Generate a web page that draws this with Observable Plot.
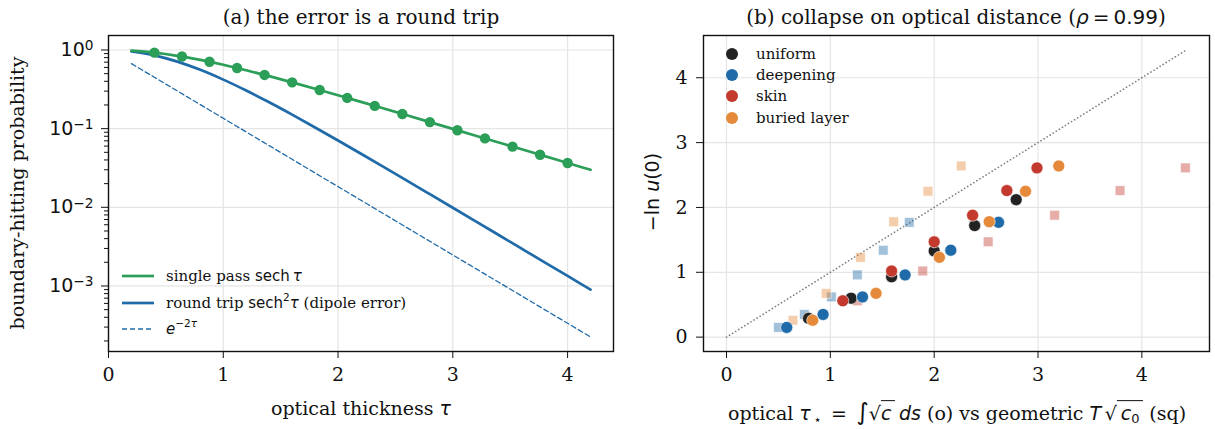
<!DOCTYPE html>
<html><head><meta charset="utf-8">
<script src="https://cdn.jsdelivr.net/npm/d3@7"></script>
<script src="https://cdn.jsdelivr.net/npm/@observablehq/plot@0.6"></script>
<style>
body{margin:0;background:#fff;}
#wrap{position:relative;width:1215px;height:429px;overflow:hidden;font-family:"DejaVu Serif",serif;color:#111;background:#fff;}
.abs{position:absolute;white-space:nowrap;line-height:1;}
.m{font-family:"DejaVu Sans",sans-serif;font-style:normal;}
.mi{font-family:"DejaVu Sans",sans-serif;font-style:italic;}
.ov{border-top:1.3px solid #111;padding-top:1px;}
.c{transform:translate(-50%,-50%);}
.leg{position:absolute;font-size:15px;white-space:nowrap;}
.leg div{display:flex;align-items:center;height:26.5px;}
.leg2 div{display:flex;align-items:center;height:21.3px;}
</style></head><body><div id="wrap"></div>
<script>
// ---------- panel (a) data ----------
const tau = [0.2,0.4,0.6,0.8,1.0,1.2,1.4,1.6,1.8,2.0,2.2,2.4,2.6,2.8,3.0,3.2,3.4,3.6,3.8,4.0,4.2];
const singlePass = [0.98033,0.92500,0.84356,0.74770,0.64805,0.55228,0.46492,0.38798,0.32180,0.26580,0.21892,0.17996,0.14773,0.12117,0.09933,0.08139,0.06668,0.05461,0.04472,0.03662,0.02998];
const roundTrip = [0.96105,0.85563,0.71160,0.55905,0.41997,0.30501,0.21615,0.15053,0.10356,0.07065,0.04793,0.03239,0.02183,0.01468,0.009866,0.006624,0.004446,0.002982,0.002000,0.001341,0.000899];
const expTwo = [0.67032,0.44933,0.30119,0.20190,0.13534,0.09072,0.06081,0.04076,0.02732,0.01832,0.01228,0.00823,0.005517,0.003698,0.002479,0.001662,0.001114,0.000747,0.0005005,0.0003355,0.0002249];
const markerTau = [0.40,0.64,0.88,1.12,1.36,1.60,1.84,2.08,2.32,2.56,2.80,3.04,3.28,3.52,3.76,4.00];
const markerSingle = [0.9250,0.8252,0.7078,0.5898,0.4816,0.3880,0.3098,0.2460,0.1947,0.1537,0.1212,0.09545,0.07515,0.05915,0.04654,0.03662];
const xTicksA = [0,1,2,3,4];
const yTicksA = [1e-3,1e-2,1e-1,1];
const yTickExpA = ["−3","−2","−1","0"];

// ---------- panel (b) data ----------
const families = ["uniform","deepening","skin","buried layer"];
const famColors = ["#222222","#1f6aa8","#c3392d","#e58a3a"];
const lnU0 = [
  [0.29,0.60,0.93,1.33,1.72,2.12],
  [0.15,0.35,0.62,0.96,1.34,1.77],
  [0.56,1.02,1.47,1.88,2.26,2.61],
  [0.26,0.675,1.23,1.78,2.25,2.64]
];
const opticalTau = [
  [0.79,1.20,1.59,2.00,2.39,2.79],
  [0.58,0.93,1.31,1.72,2.16,2.62],
  [1.12,1.59,2.00,2.37,2.70,2.99],
  [0.83,1.44,2.05,2.53,2.88,3.20]
];
const geometricT = [
  [0.79,1.20,1.59,2.00,2.39,2.79],
  [0.50,0.75,1.01,1.26,1.51,1.76],
  [1.26,1.89,2.52,3.16,3.79,4.42],
  [0.64,0.96,1.29,1.61,1.94,2.26]
];
const ticksB = [0,1,2,3,4];

// ---------- build tables ----------
const curveA = tau.map((t,i)=>({t, s:singlePass[i], r:roundTrip[i], e:expTwo[i]}));
const markersA = markerTau.map((t,i)=>({t, s:markerSingle[i]}));
const circles = [], squares = [];
families.forEach((f,k)=>{
  lnU0[k].forEach((y,i)=>{
    circles.push({fam:f, x:opticalTau[k][i], y});
    squares.push({fam:f, x:geometricT[k][i], y});
  });
});
const maxX = d3.max(squares.concat(circles), d=>d.x);
const diag = [{v:0},{v:maxX}];

const green = "#2b9e58", blue = "#1f6aa8";
const gridColor = "#e5e5e5";
const TICK_FS = 19;

const yDomA = [1.469e-4, 1.528];
const minorA = [];
for (let e=-4;e<=0;e++) for (let k=2;k<=9;k++){const v=k*Math.pow(10,e); if(v>yDomA[0]&&v<yDomA[1]) minorA.push(v);}

const wrap = document.getElementById("wrap");
const baseStyle = {fontFamily:"DejaVu Serif", fontSize:TICK_FS+"px", color:"#111", background:"transparent", overflow:"visible"};

const plotA = Plot.plot({
  width:620, height:429, marginLeft:108, marginRight:7, marginTop:35, marginBottom:78,
  style:baseStyle,
  x:{domain:[0,4.4]},
  y:{type:"log", domain:yDomA},
  marks:[
    Plot.gridX(xTicksA,{stroke:gridColor, strokeOpacity:1, strokeWidth:1.2}),
    Plot.gridY(yTicksA,{stroke:gridColor, strokeOpacity:1, strokeWidth:1.2}),
    Plot.line(curveA,{x:"t", y:"e", stroke:blue, strokeWidth:1.3, strokeDasharray:"5,3", curve:"monotone-x"}),
    Plot.line(curveA,{x:"t", y:"r", stroke:blue, strokeWidth:2.7, curve:"monotone-x"}),
    Plot.line(curveA,{x:"t", y:"s", stroke:green, strokeWidth:2.7, curve:"monotone-x"}),
    Plot.dot(markersA,{x:"t", y:"s", r:5.2, fill:green}),
    Plot.axisX({ticks:xTicksA, tickSize:7, tickPadding:9, label:null, fontSize:TICK_FS, tickFormat:d=>String(d)}),
    Plot.axisY({ticks:yTicksA, tickSize:7, tickPadding:8, label:null, fontFamily:"DejaVu Sans", fontSize:TICK_FS,
      tickFormat:d=>"10^"+yTickExpA[yTicksA.findIndex(v=>Math.abs(v-d)/v<1e-6)]}),
    Plot.axisY({ticks:minorA, tickSize:4, label:null, tickFormat:()=>""}),
    Plot.frame({stroke:"#111", strokeWidth:1.4})
  ]
});
// render exponents as real superscripts
plotA.querySelectorAll("text").forEach(t=>{
  const s = t.textContent;
  if (s.startsWith("10^")) {
    const exp = s.slice(3);
    t.textContent = "10";
    const ts = document.createElementNS("http://www.w3.org/2000/svg","tspan");
    ts.setAttribute("dy","-0.42em");
    ts.setAttribute("font-size","0.72em");
    ts.textContent = exp;
    t.appendChild(ts);
  }
});
Object.assign(plotA.style,{position:"absolute", left:"0px", top:"0px"});
wrap.appendChild(plotA);

const plotB = Plot.plot({
  width:595, height:429, marginLeft:83, marginRight:6, marginTop:35, marginBottom:78,
  style:baseStyle,
  x:{domain:[-0.2215,4.6515]},
  y:{domain:[-0.2215,4.6515]},
  color:{domain:families, range:famColors},
  marks:[
    Plot.gridX(ticksB,{stroke:gridColor, strokeOpacity:1, strokeWidth:1.2}),
    Plot.gridY(ticksB,{stroke:gridColor, strokeOpacity:1, strokeWidth:1.2}),
    Plot.line(diag,{x:"v", y:"v", stroke:"#808080", strokeWidth:1.7, strokeDasharray:"0.1,3.5", strokeLinecap:"round"}),
    Plot.dot(squares,{x:"x", y:"y", symbol:"square", r:5.5, fill:"fam", fillOpacity:0.42, stroke:"white", strokeWidth:0.6}),
    Plot.dot(circles,{x:"x", y:"y", r:6, fill:"fam", stroke:"white", strokeWidth:0.6}),
    Plot.axisX({ticks:ticksB, tickSize:7, tickPadding:9, label:null, fontSize:TICK_FS, tickFormat:d=>String(d)}),
    Plot.axisY({ticks:ticksB, tickSize:7, tickPadding:9, label:null, fontSize:TICK_FS, tickFormat:d=>String(d)}),
    Plot.frame({stroke:"#111", strokeWidth:1.4})
  ]
});
Object.assign(plotB.style,{position:"absolute", left:"620px", top:"0px"});
wrap.appendChild(plotB);

// ---------- text ----------
function addHTML(html, css, cls){
  const d = document.createElement("div");
  d.className = "abs " + (cls||"");
  d.innerHTML = html;
  Object.assign(d.style, css);
  wrap.appendChild(d);
  return d;
}
const LBL = "19px", TTL = "20px";
addHTML("(a) the error is a round trip", {left:"361px", top:"17px", fontSize:TTL}, "c");
addHTML('(b) collapse on optical distance (<span class="mi">ρ</span><span class="m">&thinsp;=&thinsp;0.99</span>)', {left:"956px", top:"17px", fontSize:TTL}, "c");
addHTML('optical thickness <span class="mi">τ</span>', {left:"361px", top:"408px", fontSize:LBL}, "c");
addHTML('optical <span class="mi">τ</span><span class="m" style="font-size:13px;position:relative;top:4px">&thinsp;⋆</span><span class="m">&ensp;=&ensp;<span style="font-size:1.25em">∫</span>√<span class="ov"><i>c</i>&thinsp;</span>&thinsp;<i>ds</i></span> (o) vs geometric <span class="mi">T</span><span class="m">&thinsp;√<span class="ov">&thinsp;<i>c</i><span style="font-size:13px;position:relative;top:3px;font-style:normal">0</span>&thinsp;</span></span> (sq)', {left:"957px", top:"413px", fontSize:LBL}, "c");
addHTML('boundary-hitting probability', {left:"17px", top:"193px", fontSize:LBL, transform:"translate(-50%,-50%) rotate(-90deg)"});
addHTML('<span class="m">−ln </span><span class="mi">u</span><span class="m">(0)</span>', {left:"652px", top:"192px", fontSize:LBL, transform:"translate(-50%,-50%) rotate(-90deg)"});

// legend (a)
const legA = document.createElement("div");
legA.className = "leg";
legA.style.left = "121px"; legA.style.top = "263px";
const sw = (col,dash,w)=>`<svg width="34" height="8" style="margin-right:11px;flex:none"><line x1="1" y1="4" x2="33" y2="4" stroke="${col}" stroke-width="${w}" ${dash?'stroke-dasharray="5,3"':''}/></svg>`;
legA.innerHTML =
  `<div>${sw(green,false,2.7)}single pass <span class="m">&nbsp;sech</span><span class="mi">&thinsp;τ</span></div>`+
  `<div>${sw(blue,false,2.7)}round trip <span class="m">&nbsp;sech</span><span class="m" style="font-size:10.5px;position:relative;top:-6px">2</span><span class="mi">τ</span>&nbsp;(dipole error)</div>`+
  `<div>${sw(blue,true,1.3)}<span class="mi">e</span><span class="m" style="font-size:10.5px;position:relative;top:-6px">−2<i>τ</i></span></div>`;
wrap.appendChild(legA);

// legend (b)
const legB = document.createElement("div");
legB.className = "leg leg2";
legB.style.left = "725px"; legB.style.top = "43px";
legB.innerHTML = families.map((f,k)=>`<div><svg width="14" height="14" style="margin-right:17px;flex:none"><circle cx="7" cy="7" r="6" fill="${famColors[k]}"/></svg>${f}</div>`).join("");
wrap.appendChild(legB);
</script>
</body></html>
